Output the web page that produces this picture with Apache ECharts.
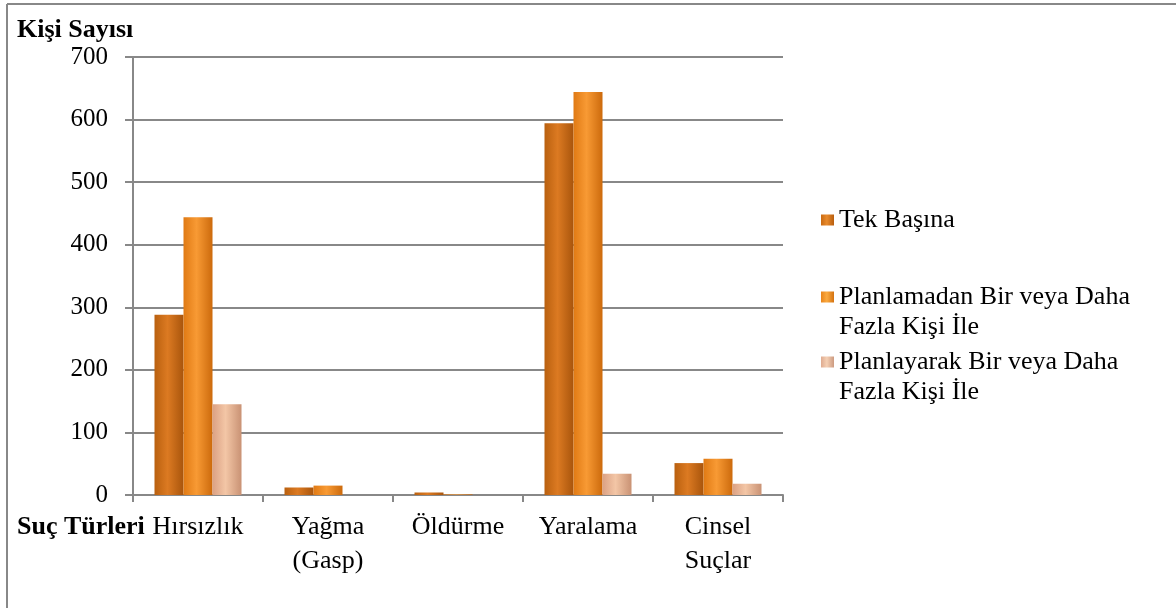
<!DOCTYPE html>
<html><head><meta charset="utf-8">
<script src="https://cdn.jsdelivr.net/npm/echarts@6/dist/echarts.min.js"></script>
<style>html,body{margin:0;padding:0;background:#fff}#c{width:1176px;height:608px}</style>
</head><body><div id="c"></div>
<script>
const categories = ['Hırsızlık', 'Yağma\n(Gasp)', 'Öldürme', 'Yaralama', 'Cinsel\nSuçlar'];
const seriesNames = ['Tek Başına', 'Planlamadan Bir veya Daha\nFazla Kişi İle', 'Planlayarak Bir veya Daha\nFazla Kişi İle'];
const tekBasina = [288, 12, 4, 594, 51];
const planlamadan = [444, 15, 1, 644, 58];
const planlayarak = [145, 0, 0, 34, 18];
const yTicks = [0, 100, 200, 300, 400, 500, 600, 700];

const FONT = '"Liberation Serif", "Times New Roman", serif';
function grad(a, b, c) {
  return new echarts.graphic.LinearGradient(0, 0, 1, 0, [
    {offset: 0, color: a}, {offset: 0.45, color: b}, {offset: 1, color: c}
  ]);
}
const colors = [
  grad('#b9600f', '#dc7a22', '#a9550c'),
  grad('#e07a14', '#f89a34', '#cc6a0c'),
  grad('#dba184', '#f3c6a6', '#c99274')
];
const legendIcon = [
  grad('#c96a12', '#e88a2c', '#b85e0e'),
  grad('#e8841a', '#fbaa40', '#d47210'),
  grad('#dfab90', '#f5d0b4', '#cc9a80')
];
const chart = echarts.init(document.getElementById('c'), null, {renderer: 'canvas'});
const dataArr = [tekBasina, planlamadan, planlayarak];
const legendCenters = [220, 297, 362];
const titleStyle = {fontFamily: FONT, fontSize: 26, fontWeight: 'bold', color: '#000', lineHeight: 28};
const option = {
  backgroundColor: '#fff',
  animation: false,
  title: [
    {text: 'Kişi Sayısı', left: 17, top: 16, padding: 0, textStyle: titleStyle},
    {text: 'Suç Türleri', left: 17, top: 513, padding: 0, textStyle: titleStyle}
  ],
  legend: seriesNames.map((n, i) => ({
    data: [{name: n, itemStyle: {color: legendIcon[i]}}],
    orient: 'vertical', left: 821, padding: 0,
    top: i === 0 ? legendCenters[i] - 15 : legendCenters[i] - 45,
    icon: 'rect', itemWidth: 13, itemHeight: 11, itemGap: 0,
    itemStyle: {borderWidth: 0},
    selectedMode: false,
    formatter: name => (name.indexOf('\n') >= 0 ? '\n' + name : name),
    textStyle: {fontFamily: FONT, fontSize: 26, color: '#000', lineHeight: 30}
  })),
  grid: {left: 133, right: 393, top: 57, bottom: 113, containLabel: false, outerBoundsMode: 'none'},
  xAxis: {
    type: 'category', data: categories,
    axisLine: {lineStyle: {color: '#888', width: 2}},
    axisTick: {show: true, length: 7, lineStyle: {color: '#888', width: 2}},
    axisLabel: {fontFamily: FONT, fontSize: 26, color: '#000', lineHeight: 34, margin: 15, interval: 0}
  },
  yAxis: {
    type: 'value', min: 0, max: 700, interval: 100,
    axisLine: {show: true, lineStyle: {color: '#888', width: 2}},
    axisTick: {show: true, length: 8, lineStyle: {color: '#888', width: 2}},
    axisLabel: {fontFamily: FONT, fontSize: 25, color: '#000', margin: 25,
      formatter: v => yTicks.includes(v) ? String(v) : ''},
    splitLine: {lineStyle: {color: '#888', width: 2}}
  },
  series: seriesNames.map((n, i) => ({
    name: n, type: 'bar', data: dataArr[i],
    barWidth: 29, barGap: '0%',
    itemStyle: {color: colors[i]}
  })),
  graphic: [
    {type: 'line', shape: {x1: 7, y1: 4, x2: 1176, y2: 4}, style: {stroke: '#888', lineWidth: 2}},
    {type: 'line', shape: {x1: 7, y1: 4, x2: 7, y2: 608}, style: {stroke: '#888', lineWidth: 2}}
  ]
};
chart.setOption(option);
</script></body></html>
